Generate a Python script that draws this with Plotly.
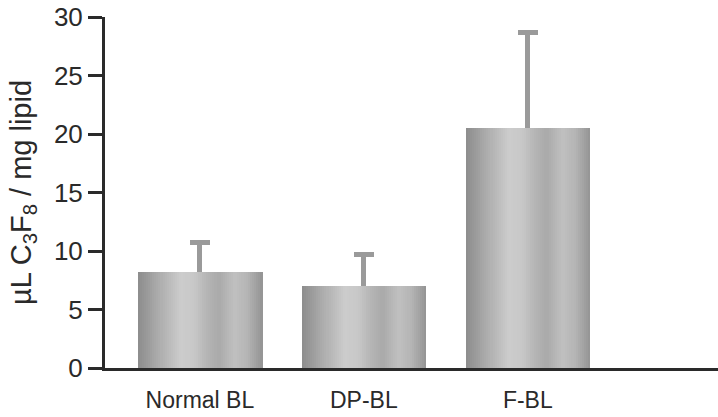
import plotly.graph_objects as go

categories = ["Normal BL", "DP-BL", "F-BL"]
means = [8.2, 7.0, 20.5]
errors_up = [2.5, 2.7, 8.2]
y_ticks = [0, 5, 10, 15, 20, 25, 30]

BAR_W = 0.76
# key stops of the horizontal shading of the cylinder-like bars (pos, gray level)
shade_stops = [(0.0, 140), (0.08, 155), (0.2, 178), (0.35, 204), (0.45, 200),
               (0.55, 182), (0.65, 170), (0.78, 192), (0.88, 180), (1.0, 148)]


def gray_at(t):
    for (p0, g0), (p1, g1) in zip(shade_stops, shade_stops[1:]):
        if p0 <= t <= p1:
            g = g0 + (g1 - g0) * (t - p0) / (p1 - p0)
            g = int(round(g))
            return f"rgb({g},{g},{g})"
    return "rgb(150,150,150)"


fig = go.Figure()

# error bars carrier drawn first, stem from 0 so the bars hide the lower part
fig.add_trace(go.Bar(
    x=categories, y=means, width=BAR_W,
    marker=dict(color="rgba(0,0,0,0)", line=dict(width=0)),
    error_y=dict(type="data", symmetric=False, array=errors_up,
                 arrayminus=means, color="#9a9a9a",
                 thickness=5, width=10),
    showlegend=False, hoverinfo="skip"))

n = 60
sw = BAR_W / n
for i in range(n):
    fig.add_trace(go.Bar(
        x=categories, y=means,
        width=sw * 1.15, offset=-BAR_W / 2 + i * sw,
        marker=dict(color=gray_at((i + 0.5) / n), line=dict(width=0)),
        showlegend=False, hoverinfo="skip"))

fig.update_layout(
    width=718, height=417,
    margin=dict(l=105, r=0, t=17, b=49),
    paper_bgcolor="white", plot_bgcolor="white",
    barmode="overlay", bargap=0,
    font=dict(family="Liberation Sans, Arial, sans-serif", color="#2a2a2a"),
    xaxis=dict(
        type="category", range=[-0.579, 3.16],
        showline=True, linecolor="#2a2a2a", linewidth=3,
        ticks="", showgrid=False, zeroline=False,
        ticklabelstandoff=9,
        tickfont=dict(size=23, color="#2a2a2a")),
    yaxis=dict(
        range=[0, 30], tickvals=y_ticks,
        showline=True, linecolor="#2a2a2a", linewidth=3,
        ticks="outside", ticklen=14, tickwidth=3, tickcolor="#2a2a2a",
        showgrid=False, zeroline=False,
        tickfont=dict(size=26, color="#2a2a2a"),
        title=dict(text="µL C<sub>3</sub>F<sub>8</sub> / mg lipid",
                   font=dict(size=29, color="#2a2a2a"), standoff=14)),
)

fig.write_html("out.html")
